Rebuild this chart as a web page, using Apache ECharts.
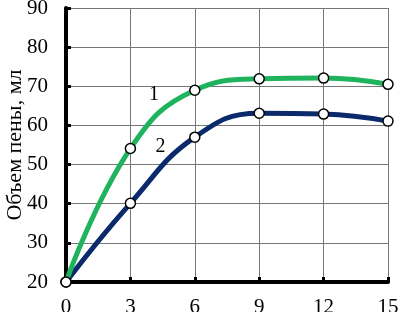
<!DOCTYPE html>
<html><head><meta charset="utf-8">
<script src="https://cdn.jsdelivr.net/npm/echarts@6/dist/echarts.min.js"></script>
<style>html,body{margin:0;padding:0;background:#fff}#c{width:398px;height:312px}</style>
</head><body><div id="c"></div>
<script>
const xValues = [0, 3, 6, 9, 12, 15];
const series1 = [20, 54.1, 69.0, 71.9, 72.1, 70.5];
const series2 = [20, 40.1, 57.0, 63.1, 62.9, 61.1];
const seriesNames = ['1', '2'];
const label1Pos = [4.1, 67.8];
const label2Pos = [4.4, 54.5];
const yAxisTitle = 'Объем пены, мл';

const font = 'Liberation Serif';
function mk(vals, name, color, lp, z) {
  return {
    type: 'line', name: name, data: xValues.map((x, i) => [x, vals[i]]),
    smooth: 0.45, symbol: 'circle', symbolSize: 10, z: z,
    lineStyle: { color: color, width: 5 },
    itemStyle: { color: '#fff', borderColor: '#000', borderWidth: 1.5 },
    markPoint: {
      symbol: 'circle', symbolSize: 0, silent: true,
      data: [{ coord: lp, label: { show: true, formatter: name, position: 'inside', color: '#000', fontFamily: font, fontSize: 20 } }]
    }
  };
}
const lbl = (margin) => ({
  color: '#000', fontFamily: font, fontSize: 21, margin: margin,
  formatter: '{a|{value}}',
  rich: { a: { fontFamily: font, fontSize: 21, color: '#000' } }
});
const chart = echarts.init(document.getElementById('c'));
chart.setOption({
  animation: false,
  textStyle: { fontFamily: font },
  grid: { left: 66, right: 10, top: 8, bottom: 30, containLabel: false, outerBoundsMode: 'none' },
  xAxis: {
    type: 'value', min: 0, max: 15, interval: 3,
    axisLine: { lineStyle: { color: '#000', width: 4 } },
    axisTick: { inside: true, length: 5, lineStyle: { color: '#000', width: 3 } },
    axisLabel: lbl(15),
    splitLine: { show: true, lineStyle: { color: '#777', width: 1 } }
  },
  yAxis: {
    type: 'value', min: 20, max: 90, interval: 10,
    name: yAxisTitle, nameLocation: 'middle', nameGap: 40, nameMoveOverlap: false,
    nameTextStyle: { color: '#000', fontFamily: font, fontSize: 22 },
    axisLine: { show: true, lineStyle: { color: '#000', width: 4 } },
    axisTick: { show: true, inside: true, length: 5, lineStyle: { color: '#000', width: 3 } },
    axisLabel: lbl(18),
    splitLine: { show: true, lineStyle: { color: '#777', width: 1 } }
  },
  series: [
    mk(series2, seriesNames[1], '#0b2a6b', label2Pos, 2),
    mk(series1, seriesNames[0], '#1fb35e', label1Pos, 3)
  ]
});
</script></body></html>
